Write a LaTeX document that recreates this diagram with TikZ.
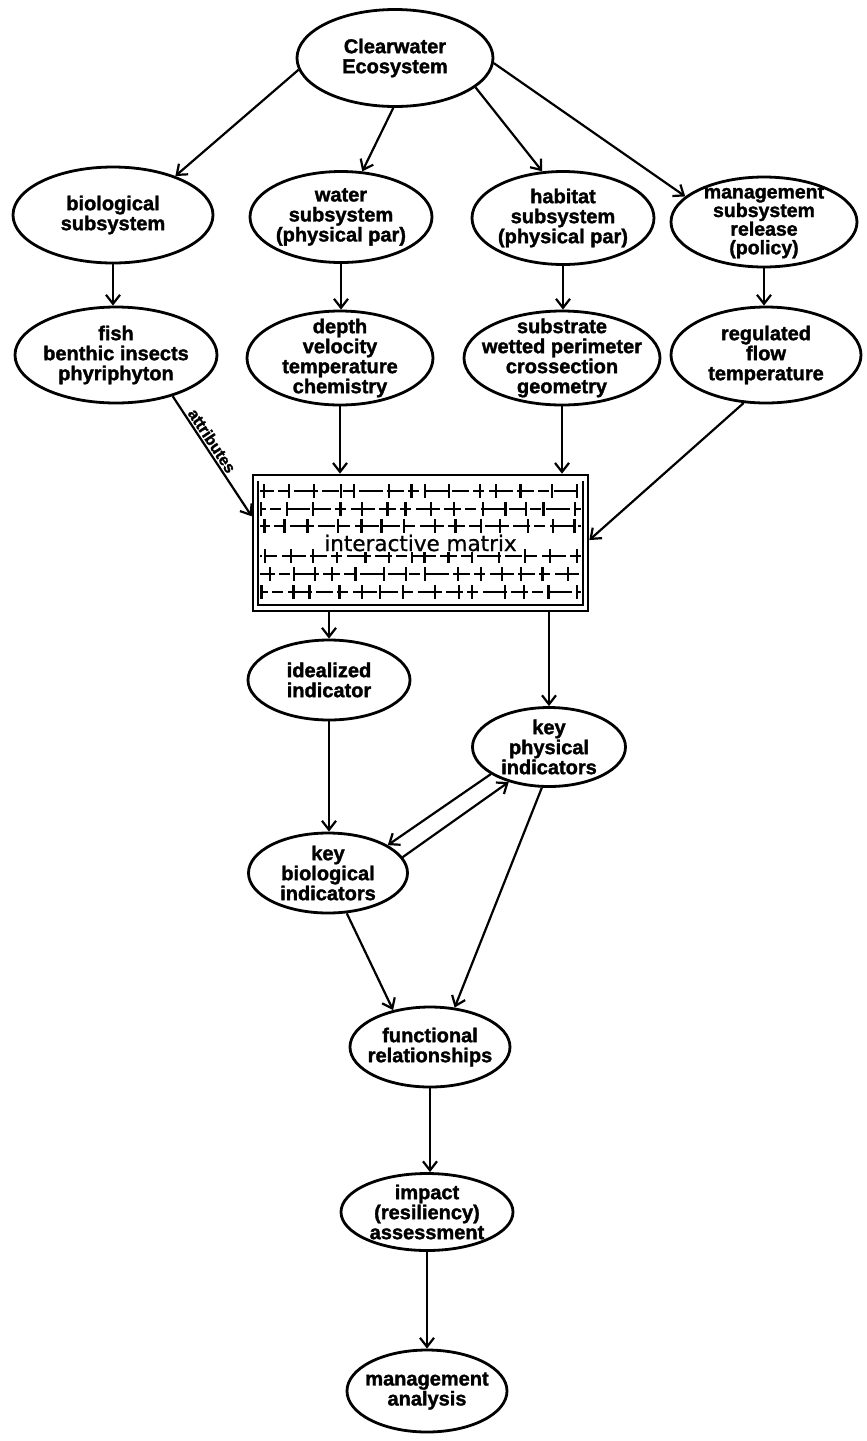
\documentclass[tikz,border=0pt]{standalone}
\usepackage{fontspec}
\setmainfont{Liberation Sans}
\newfontfamily\heavy{Liberation Sans}[BoldFeatures={FakeBold=1.6}]
\newfontfamily\matfont{DejaVu Sans}[FakeBold=0.8]
\usetikzlibrary{shapes.geometric,arrows.meta}
\begin{document}
\begin{tikzpicture}[x=1pt,y=-1pt,
  bub/.style={draw, ellipse, line width=2.8pt, inner sep=0pt},
  txt/.style={align=center, inner sep=0pt, font=\heavy\fontsize{20}{20}\selectfont\bfseries},
  arr/.style={-{Straight Barb[length=9pt,width=14pt]}, line width=2.2pt},
  matline/.style={line width=2.3pt}]
\useasboundingbox[fill=white] (0,0) rectangle (867,1441);

% ellipses
\node[bub, minimum width=196pt, minimum height=97pt] (cw) at (395,58) {};
\node[txt] (cw-t) at (cw) {Clearwater\\Ecosystem};
\node[bub, minimum width=200pt, minimum height=96pt] (bio) at (113,215) {};
\node[txt] (bio-t) at (bio) {biological\\subsystem};
\node[bub, minimum width=182pt, minimum height=91pt] (wat) at (341,217) {};
\node[txt] (wat-t) at (wat) {water\\subsystem\\(physical par)};
\node[bub, minimum width=182pt, minimum height=93pt] (hab) at (563,218) {};
\node[txt] (hab-t) at (hab) {habitat\\subsystem\\(physical par)};
\node[bub, minimum width=186pt, minimum height=90pt] (mgt) at (764,222) {};
\node[txt, font=\heavy\fontsize{19.5}{18.6}\selectfont\bfseries] (mgt-t) at (mgt) {management\\subsystem\\release\\(policy)};

\node[bub, minimum width=202pt, minimum height=96pt] (fish) at (116,355) {};
\node[txt] (fish-t) at (fish) {fish\\benthic insects\\phyriphyton};
\node[bub, minimum width=186pt, minimum height=94pt] (dep) at (340,358) {};
\node[txt] (dep-t) at (dep) {depth\\velocity\\temperature\\chemistry};
\node[bub, minimum width=196pt, minimum height=94pt] (sub) at (562,358) {};
\node[txt] (sub-t) at (sub) {substrate\\wetted perimeter\\crossection\\geometry};
\node[bub, minimum width=190pt, minimum height=96pt] (reg) at (766,355) {};
\node[txt] (reg-t) at (reg) {regulated\\flow\\temperature};

% interactive matrix
\node[draw, line width=2.6pt, minimum width=335pt, minimum height=136pt, inner sep=0pt] (mat) at (420.5,543) {};
\draw[matline] (258,481) -- (258,605) -- (583,605) -- (583,481);
\pgfmathsetseed{12}
\foreach \yy/\ph in {491/3,509/11,526/7,556/15,574/2,592/9}{
  \draw[matline, dash pattern=on 17pt off 4pt on 11pt off 5pt on 24pt off 4pt, dash phase=\ph pt] (260,\yy) -- (581,\yy);
  \foreach \i in {0,...,13}{
    \pgfmathsetmacro{\xx}{266+\i*23.5+rnd*12-6}
    \draw[matline] (\xx,\yy-7) -- (\xx,\yy+7);
  }
}
\node[fill=white, inner sep=1pt, font=\matfont\fontsize{21.5}{22}\selectfont] (mat-t) at (mat) {interactive matrix};

\node[bub, minimum width=162pt, minimum height=80pt] (ideal) at (329,680) {};
\node[txt] (ideal-t) at (ideal) {idealized\\indicator};
\node[bub, minimum width=153pt, minimum height=79pt] (kp) at (549,747) {};
\node[txt] (kp-t) at (kp) {key\\physical\\indicators};
\node[bub, minimum width=159pt, minimum height=80pt] (kb) at (328,873) {};
\node[txt] (kb-t) at (kb) {key\\biological\\indicators};
\node[bub, minimum width=160pt, minimum height=80pt] (fr) at (430,1047) {};
\node[txt] (fr-t) at (fr) {functional\\relationships};
\node[bub, minimum width=172pt, minimum height=77pt] (imp) at (427,1212) {};
\node[txt] (imp-t) at (imp) {impact\\(resiliency)\\assessment};
\node[bub, minimum width=160pt, minimum height=82pt] (ma) at (427,1391) {};
\node[txt] (ma-t) at (ma) {management\\analysis};

% connectors
\draw[arr] (cw.187) -- (bio.32);
\draw[arr] (cw.268) -- (wat.65);
\draw[arr] (cw.340) -- (hab.114);
\draw[arr] (cw.357) -- (mgt.162);
\draw[arr] (bio.south) -- (bio.south |- fish.north);
\draw[arr] (wat.south) -- (wat.south |- dep.north);
\draw[arr] (hab.south) -- (hab.south |- sub.north);
\draw[arr] (mgt.south) -- (mgt.south |- reg.north);
\draw[arr] (fish.-36) -- node[sloped, above, pos=0.41, inner sep=1.5pt, font=\heavy\fontsize{16}{16}\selectfont\bfseries] (attr) {attributes} (mat.171.5);
\draw[arr] (dep.south) -- (dep.south |- mat.north);
\draw[arr] (sub.south) -- (sub.south |- mat.north);
\draw[arr] (reg.245) -- (mat.1.7);
\draw[arr] (ideal.north |- mat.south) -- (ideal.north);
\draw[arr] (kp.north |- mat.south) -- (kp.north);
\draw[arr] (ideal.south) -- (ideal.south |- kb.north);
\draw[arr] (kp.205) -- (kb.25);
\draw[arr] (kb.12) -- (kp.221.6);
\draw[arr] (kb.295) -- (fr.135);
\draw[arr] (kp.260) -- (fr.58);
\draw[arr] (fr.south) -- (fr.south |- imp.north);
\draw[arr] (imp.south) -- (imp.south |- ma.north);
\end{tikzpicture}
\end{document}
